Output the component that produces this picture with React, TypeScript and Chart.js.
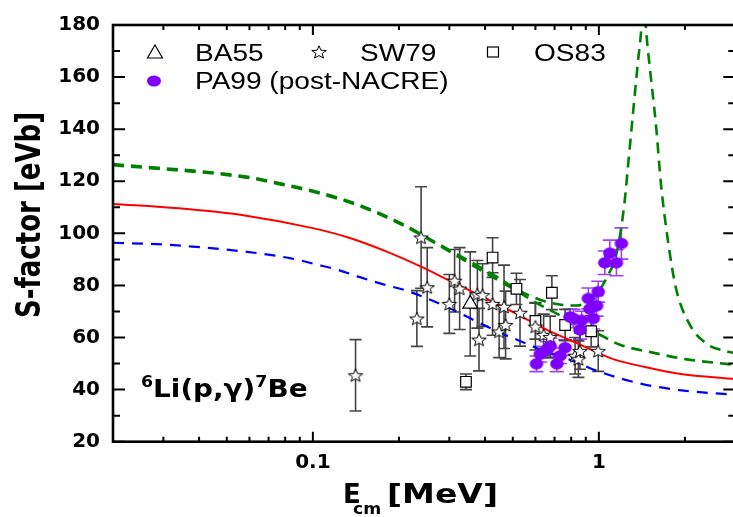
import React, { useEffect, useRef } from 'react';
import { Chart, registerables } from 'chart.js';

Chart.register(...registerables);

// ---------- data ----------
const X_TICKS = [0.1, 1];
const Y_TICKS_MAJOR = [20, 40, 60, 80, 100, 120, 140, 160, 180];
const Y_TICKS_MINOR = [30, 50, 70, 90, 110, 130, 150, 170];
const X_TICKS_MINOR = [0.02, 0.03, 0.04, 0.05, 0.06, 0.07, 0.08, 0.09, 0.2, 0.3, 0.4, 0.5, 0.6, 0.7, 0.8, 0.9, 2];

const BA55_E = [0.355];
const BA55_S = [72.9];
const BA55_ERR = [20];

const SW79_E = [0.141, 0.231, 0.239, 0.251, 0.3, 0.313, 0.326, 0.376, 0.381, 0.392, 0.425, 0.448, 0.466, 0.472, 0.53, 0.6, 0.641, 0.676, 0.826, 0.848, 0.859, 0.995];
const SW79_S = [45.5, 67.3, 98.4, 79.3, 72.9, 81.8, 78.8, 76.6, 59.2, 76.3, 72.9, 62.3, 71.8, 64.8, 69.5, 64.2, 61.0, 60.2, 53.0, 51.7, 54.8, 54.8];
const SW79_ERR = [13.7, 10.7, 19.5, 15.2, 11.3, 12, 15.7, 13, 12, 12, 12, 10, 16, 13, 12.8, 9, 8, 8, 7, 7, 7, 7.8];

const OS83_E = [0.343, 0.425, 0.515, 0.6, 0.685, 0.762, 0.94];
const OS83_S = [43.0, 90.7, 78.7, 66.4, 77.2, 64.8, 62.4];
const OS83_ERR = [3, 7.6, 6, 7, 6.5, 6, 6];

const PA99_E = [0.605, 0.624, 0.659, 0.676, 0.713, 0.732, 0.762, 0.793, 0.815, 0.859, 0.871, 0.919, 0.931, 0.956, 0.982, 0.995, 1.049, 1.092, 1.152, 1.199];
const PA99_S = [49.9, 53.6, 55.4, 56.7, 49.9, 53.0, 56.1, 67.9, 67.3, 62.9, 66.6, 75.0, 71.0, 67.3, 72.2, 77.6, 88.7, 92.4, 88.7, 96.1];
const PA99_ERR = [3, 3, 3, 3, 3, 3, 3, 3, 3.5, 3.5, 3.5, 4, 4, 4, 4, 4, 4.5, 5, 5, 6];

const RED_E = [0.02, 0.034, 0.0585, 0.1, 0.133, 0.183, 0.239, 0.296, 0.386, 0.505, 0.659, 0.86, 1.122, 1.464, 1.91, 3.0];
const RED_S = [111.3, 109.6, 106.8, 102.0, 98.4, 92.8, 87.2, 82.2, 76.0, 69.6, 62.9, 57.3, 51.7, 48.6, 46.1, 44.0];

const BLUE_E = [0.02, 0.03, 0.0598, 0.0846, 0.1026, 0.123, 0.144, 0.174, 0.215, 0.296, 0.386, 0.454, 0.532, 0.641, 0.752, 0.883, 1.008, 1.388, 1.91, 3.0];
const BLUE_S = [96.4, 95.7, 92.8, 90.3, 88.1, 85.9, 83.4, 80.6, 77.8, 71.6, 65.4, 61.7, 58.6, 54.9, 52.4, 49.3, 46.8, 42.4, 39.8, 38.0];

const GREENA_E = [0.02, 0.0585, 0.0762, 0.1048, 0.146, 0.204, 0.277, 0.376, 0.442, 0.518, 0.6, 0.732, 0.86, 1.036, 1.18, 1.544, 2.01, 3.0];
const GREENA_S = [126.2, 121.4, 118.9, 115.4, 110.4, 103.4, 95.3, 86.6, 82.2, 77.8, 73.5, 68.5, 64.8, 60.4, 57.3, 54.2, 51.7, 49.5];

const GREENB_E = [0.02, 0.0585, 0.0762, 0.1048, 0.146, 0.204, 0.277, 0.376, 0.442, 0.518, 0.59, 0.65, 0.75, 0.837, 0.92, 0.995, 1.078, 1.136, 1.18, 1.23, 1.265, 1.316, 1.37, 1.406, 1.43, 1.464, 1.52, 1.585, 1.649, 1.741, 1.859, 2.068, 2.36, 2.77, 3.0];
const GREENB_S = [126.6, 121.8, 119.3, 115.8, 110.8, 103.8, 95.7, 87.6, 83.2, 78.4, 75.5, 73.8, 72.5, 72.3, 74.0, 77.4, 84.1, 89.7, 97.8, 112, 126, 146, 166, 178, 192, 177.3, 159.9, 141.3, 118.9, 97.8, 79.1, 65.4, 57.9, 54.8, 54.0];

const LEGEND_LABELS = ['BA55', 'SW79', 'OS83', 'PA99 (post-NACRE)'];

const toPts = (xs: number[], ys: number[]) => xs.map((x, i) => ({ x, y: ys[i] }));

// ---------- marker images ----------
function makeStar(R: number, lw: number, sx: number) {
  const size = 20;
  const c = document.createElement('canvas');
  c.width = size;
  c.height = size;
  const g = c.getContext('2d')!;
  const cx = size / 2, cy = size / 2 + 0.6;
  g.beginPath();
  for (let k = 0; k < 10; k++) {
    const r = k % 2 === 0 ? R : R * 0.43;
    const a = -Math.PI / 2 + (k * Math.PI) / 5;
    const px = cx + r * Math.cos(a) * sx;
    const py = cy + r * Math.sin(a);
    if (k === 0) g.moveTo(px, py); else g.lineTo(px, py);
  }
  g.closePath();
  g.fillStyle = '#fff';
  g.fill();
  g.lineWidth = lw;
  g.strokeStyle = '#000';
  g.stroke();
  return c;
}

function makeEllipse(rx: number, ry: number, color: string) {
  const size = 18;
  const c = document.createElement('canvas');
  c.width = size;
  c.height = size;
  const g = c.getContext('2d')!;
  g.beginPath();
  g.ellipse(size / 2, size / 2, rx, ry, 0, 0, Math.PI * 2);
  g.fillStyle = color;
  g.fill();
  return c;
}

const PURPLE = '#7f00ff';
const PURPLE_ERR = '#9a44ff';
const ERR_GRAY = '#444444';
const FONT = '"DejaVu Sans", sans-serif';
const ARIAL = '"Liberation Sans", Arial, sans-serif';

type Part = { t: string; size: number; dy: number; dx?: number };

// draws a run of text, horizontally stretched by sx (the reference is a horizontally stretched picture)
function drawTextRun(ctx: CanvasRenderingContext2D, parts: Part[], x: number, y: number, weight: string, family: string, sx: number) {
  ctx.save();
  ctx.translate(x, y);
  ctx.scale(sx, 1);
  let cx = 0;
  for (const p of parts) {
    ctx.font = `${weight} ${p.size}px ${family}`;
    cx += p.dx || 0;
    ctx.fillText(p.t, cx, p.dy);
    cx += ctx.measureText(p.t).width;
  }
  ctx.restore();
}

function makeDecorPlugin(star: HTMLCanvasElement) {
  return {
    id: 'decor',
    beforeDatasetsDraw(chart: any) {
      const { ctx, chartArea, scales } = chart;
      const xs = scales.x, ys = scales.y;
      ctx.save();
      ctx.beginPath();
      ctx.rect(chartArea.left, chartArea.top, chartArea.right - chartArea.left, chartArea.bottom - chartArea.top);
      ctx.clip();
      chart.data.datasets.forEach((ds: any) => {
        if (!ds.errors) return;
        ctx.strokeStyle = ds.errColor;
        ctx.lineWidth = 1.6;
        const cap = ds.capHalf;
        ds.data.forEach((p: any, j: number) => {
          const e = ds.errors[j];
          const x = xs.getPixelForValue(p.x);
          const y1 = ys.getPixelForValue(p.y + e);
          const y2 = ys.getPixelForValue(p.y - e);
          ctx.beginPath();
          ctx.moveTo(x, y1); ctx.lineTo(x, y2);
          ctx.moveTo(x - cap, y1); ctx.lineTo(x + cap, y1);
          ctx.moveTo(x - cap, y2); ctx.lineTo(x + cap, y2);
          ctx.stroke();
        });
      });
      ctx.restore();
    },
    afterDraw(chart: any) {
      const { ctx, chartArea, scales } = chart;
      const xs = scales.x, ys = scales.y;
      const { left, right, top, bottom } = chartArea;
      ctx.save();
      ctx.strokeStyle = '#000';
      ctx.lineWidth = 2.6;
      ctx.strokeRect(left, top, right - left, bottom - top);
      ctx.lineWidth = 2;
      ctx.beginPath();
      const yTick = (v: number, len: number) => {
        const y = ys.getPixelForValue(v);
        ctx.moveTo(left, y); ctx.lineTo(left + len, y);
        ctx.moveTo(right, y); ctx.lineTo(right - len, y);
      };
      Y_TICKS_MAJOR.forEach((v) => yTick(v, 12));
      Y_TICKS_MINOR.forEach((v) => yTick(v, 7));
      const xTick = (v: number, len: number) => {
        const x = xs.getPixelForValue(v);
        ctx.moveTo(x, bottom); ctx.lineTo(x, bottom - len);
        ctx.moveTo(x, top); ctx.lineTo(x, top + len);
      };
      X_TICKS.forEach((v) => xTick(v, 10));
      X_TICKS_MINOR.forEach((v) => xTick(v, 5));
      ctx.stroke();

      // legend
      ctx.strokeStyle = '#000';
      ctx.lineWidth = 1.2;
      ctx.beginPath();
      ctx.moveTo(155, 45); ctx.lineTo(162.5, 58); ctx.lineTo(147.5, 58); ctx.closePath();
      ctx.stroke();
      ctx.drawImage(star, 319 - 10, 52 - 10);
      ctx.strokeRect(487.5, 47, 11, 10);
      ctx.beginPath();
      ctx.ellipse(154, 81, 7, 5.5, 0, 0, Math.PI * 2);
      ctx.fillStyle = PURPLE;
      ctx.fill();

      ctx.fillStyle = '#000';
      ctx.textBaseline = 'alphabetic';
      ctx.textAlign = 'left';
      const LS = 1.22;
      drawTextRun(ctx, [{ t: LEGEND_LABELS[0], size: 23, dy: 0 }], 195, 61, 'normal', ARIAL, LS);
      drawTextRun(ctx, [{ t: LEGEND_LABELS[1], size: 23, dy: 0 }], 360, 61, 'normal', ARIAL, LS);
      drawTextRun(ctx, [{ t: LEGEND_LABELS[2], size: 23, dy: 0 }], 534, 61, 'normal', ARIAL, LS);
      drawTextRun(ctx, [{ t: LEGEND_LABELS[3], size: 23, dy: 0 }], 195, 89, 'normal', ARIAL, LS);

      // reaction label
      drawTextRun(ctx, [
        { t: '6', size: 15, dy: -10 },
        { t: 'Li(p,\u03B3)', size: 24, dy: 0 },
        { t: '7', size: 15, dy: -10 },
        { t: 'Be', size: 24, dy: 0 },
      ], 141, 397, 'bold', FONT, 1.16);

      // x title
      drawTextRun(ctx, [{ t: 'E', size: 26, dy: 0 }], 343, 503, 'bold', FONT, 1.0);
      drawTextRun(ctx, [{ t: 'cm', size: 15, dy: 0 }], 353, 514, 'bold', FONT, 1.15);
      drawTextRun(ctx, [{ t: '[MeV]', size: 26, dy: 0 }], 387, 503, 'bold', FONT, 1.27);

      // y title
      ctx.translate(31, 215);
      ctx.rotate(-Math.PI / 2);
      ctx.scale(1, 1.28);
      ctx.font = `bold 26px ${FONT}`;
      ctx.textAlign = 'center';
      ctx.textBaseline = 'middle';
      ctx.fillText('S-factor [eVb]', 0, 0);
      ctx.restore();
    },
  };
}

export default function App() {
  const ref = useRef<HTMLCanvasElement>(null);
  useEffect(() => {
    const canvas = ref.current!;
    const star = makeStar(6.8, 1, 1.12);
    const ellipse = makeEllipse(6.8, 5.8, PURPLE);
    const tickFont = { family: FONT, size: 20, weight: 'bold' as const };
    const chart: any = new Chart(canvas, {
      type: 'line',
      data: {
        datasets: [
          {
            label: LEGEND_LABELS[3], data: toPts(PA99_E, PA99_S), showLine: false,
            pointStyle: ellipse as any, pointRadius: 7, backgroundColor: PURPLE, borderColor: PURPLE,
            errors: PA99_ERR, errColor: PURPLE_ERR, capHalf: 7,
          } as any,
          {
            label: LEGEND_LABELS[1], data: toPts(SW79_E, SW79_S), showLine: false,
            pointStyle: star as any, pointRadius: 7,
            errors: SW79_ERR, errColor: ERR_GRAY, capHalf: 6,
          } as any,
          {
            label: LEGEND_LABELS[2], data: toPts(OS83_E, OS83_S), showLine: false,
            pointStyle: 'rect', pointRadius: 7.5, backgroundColor: '#fff', borderColor: '#000', borderWidth: 1.2,
            errors: OS83_ERR, errColor: ERR_GRAY, capHalf: 6,
          } as any,
          {
            label: LEGEND_LABELS[0], data: toPts(BA55_E, BA55_S), showLine: false,
            pointStyle: 'triangle', pointRadius: 8.5, backgroundColor: '#fff', borderColor: '#000', borderWidth: 1.2,
            errors: BA55_ERR, errColor: ERR_GRAY, capHalf: 6,
          } as any,
          {
            label: 'fit', data: toPts(RED_E, RED_S), borderColor: '#ff0000', borderWidth: 2,
            pointRadius: 0, cubicInterpolationMode: 'monotone',
          },
          {
            label: 'lower', data: toPts(BLUE_E, BLUE_S), borderColor: '#0000ff', borderWidth: 2.2,
            borderDash: [11, 8], pointRadius: 0, cubicInterpolationMode: 'monotone',
          },
          {
            label: 'upper', data: toPts(GREENA_E, GREENA_S), borderColor: '#008000', borderWidth: 2.6,
            borderDash: [11, 7], pointRadius: 0, cubicInterpolationMode: 'monotone',
          },
          {
            label: 'upper-res', data: toPts(GREENB_E, GREENB_S), borderColor: '#008000', borderWidth: 2.6,
            borderDash: [11, 7], pointRadius: 0, cubicInterpolationMode: 'monotone',
          },
        ],
      },
      options: {
        responsive: false,
        animation: false,
        devicePixelRatio: 1,
        events: [],
        layout: { padding: { top: 13, right: 5, left: 0, bottom: 0 } },
        plugins: { legend: { display: false }, tooltip: { enabled: false } },
        scales: {
          x: {
            type: 'logarithmic', min: 0.02, max: 3, position: 'bottom',
            grid: { display: false, drawTicks: false }, border: { display: false },
            afterBuildTicks: (s: any) => { s.ticks = X_TICKS.map((v) => ({ value: v })); },
            afterFit: (s: any) => { s.height = 517 - 441.7; },
            ticks: {
              font: tickFont, color: '#000', padding: 9, maxRotation: 0, autoSkip: false,
              callback: (v: any) => String(v),
            },
          },
          y: {
            type: 'linear', min: 20, max: 180,
            grid: { display: false, drawTicks: false }, border: { display: false },
            afterFit: (s: any) => { s.width = 113; },
            ticks: { font: tickFont, color: '#000', stepSize: 20, padding: 13 },
          },
        },
      },
      plugins: [makeDecorPlugin(star)],
    } as any);
    return () => chart.destroy();
  }, []);
  return (
    <div style={{ position: 'absolute', left: 0, top: 0, width: 733, height: 517, overflow: 'hidden', background: '#fff' }}>
      <canvas ref={ref} width={745} height={517} style={{ display: 'block' }} />
    </div>
  );
}
